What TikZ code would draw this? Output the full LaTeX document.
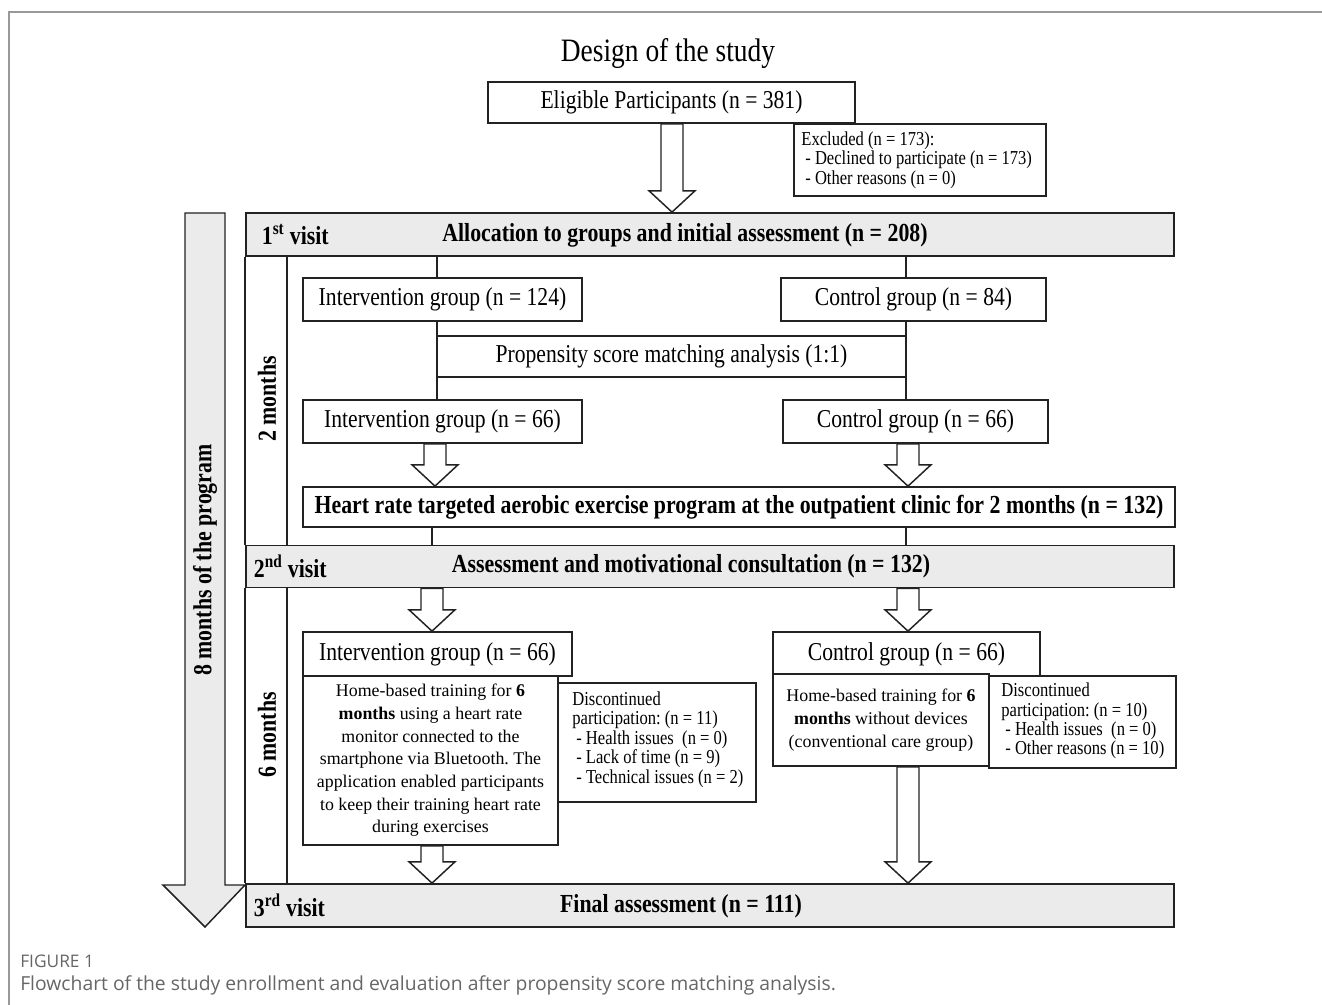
\documentclass[tikz,border=0pt]{standalone}
\usepackage{fontspec}
\setmainfont{Liberation Serif}[FakeStretch=0.84]
\newfontfamily\plainserif{Liberation Serif}
\newfontfamily\capfont{Open Sans}
\usetikzlibrary{calc}
\frenchspacing
\definecolor{barfill}{HTML}{EBEBEB}
\definecolor{capgray}{HTML}{666666}
\definecolor{framegray}{HTML}{999999}
\definecolor{ink}{HTML}{222222}
\newcommand\hollowarrow[2]{%
  \draw[harrow] let \p1=(#1), \p2=(#2) in
    (\x1-8.25pt,\y1) -- (\x1-8.25pt,\y2+16pt) -- (\x1-17.25pt,\y2+16pt) -- (\x1,\y2)
    -- (\x1+17.25pt,\y2+16pt) -- (\x1+8.25pt,\y2+16pt) -- (\x1+8.25pt,\y1) -- cycle;}
\begin{document}
\begin{tikzpicture}[x=0.75pt,y=-0.75pt,
  box/.style={draw=ink,line width=1.3pt,fill=white,inner sep=0pt,align=center},
  bar/.style={draw=ink,line width=1.3pt,fill=barfill,inner sep=0pt},
  sz/.style 2 args={minimum width=#1*0.75pt,minimum height=#2*0.75pt},
  conn/.style={draw=ink,line width=1.1pt},
  harrow/.style={draw=ink,line width=1.1pt,fill=white,line join=miter},
  mtext/.style={font=\fontsize{19.3}{22}\selectfont},
  btext/.style={font=\bfseries\fontsize{19.5}{22}\selectfont},
  stext/.style={font=\fontsize{14.8}{14.6}\selectfont,align=left,inner sep=0pt,anchor=west},
  htext/.style={font=\plainserif\fontsize{13.4}{17}\selectfont},
]
\useasboundingbox (0,0) rectangle (1322,1005);
% outer frame
\draw[framegray,line width=0.8pt] (9,1005) -- (9,12) -- (1322,12);

% column coordinates
\coordinate (cTop) at (672,0);
\coordinate (cL) at (437,0);
\coordinate (cR) at (906,0);
\coordinate (aL) at (435,0);
\coordinate (aR) at (908,0);
\coordinate (dL) at (432,0);
\coordinate (inner) at (287,0);

% title and enrollment
\node[font=\fontsize{24.5}{28}\selectfont] (title) at (668,54) {Design of the study};
\node[box,sz={367}{41},mtext] (elig) at (671.5,102.5) {Eligible Participants (n = 381)};
\node[box,sz={252}{72}] (excl) at (920,160) {};
\node[stext] (excltxt) at ($(excl.west)+(8,0)$)
  {Excluded (n = 173):\\\hspace*{0.2em}- Declined to participate (n = 173)\\\hspace*{0.2em}- Other reasons (n = 0)};

% big left arrow
\draw[fill=barfill,draw=ink,line width=1.1pt] (185,213) -- (225,213) -- (225,885) -- (245,885) -- (205,927)
  -- (163,885) -- (185,885) -- cycle;
\node[rotate=90,btext] (prog) at (205,560) {8 months of the program};

% bars
\node[bar,sz={928}{43}] (alloc) at (710,234.5) {};
\node[bar,sz={928}{42}] (visit2) at (710,566.5) {};
\node[bar,sz={928}{43}] (visit3) at (710,905.5) {};
\node[btext,anchor=west] (v1) at ($(alloc.west)+(12,0)$) {1\textsuperscript{st} visit};
\node[btext] (v1t) at (685,235) {Allocation to groups and initial assessment (n = 208)};
\node[btext,anchor=west] (v2) at ($(visit2.west)+(4,0)$) {2\textsuperscript{nd} visit};
\node[btext] (v2t) at (691,566.5) {Assessment and motivational consultation (n = 132)};
\node[btext,anchor=west] (v3) at ($(visit3.west)+(4,0)$) {3\textsuperscript{rd} visit};
\node[btext] (v3t) at (681,906) {Final assessment (n = 111)};

\hollowarrow{elig.south -| cTop}{alloc.north -| cTop}

% left frame lines and period columns
\draw[conn] (alloc.south west) -- (visit2.north west);
\draw[conn] (visit2.south west) -- (visit3.north west);
\draw[conn] (alloc.south -| inner) -- (visit2.north -| inner);
\draw[conn] (visit2.south -| inner) -- (visit3.north -| inner);
\node[rotate=90,btext] (m2) at (267,399) {2 months};
\node[rotate=90,btext] (m6) at (267,735) {6 months};

% 2 months part
\node[box,sz={279}{43},mtext] (ig1) at (442.5,299.5) {Intervention group (n = 124)};
\node[box,sz={265}{43},mtext] (cg1) at (913.5,299.5) {Control group (n = 84)};
\node[box,sz={469}{41},mtext] (psm) at (671.5,356.5) {Propensity score matching analysis (1:1)};
\node[box,sz={279}{43},mtext] (ig2) at (442.5,421.5) {Intervention group (n = 66)};
\node[box,sz={265}{43},mtext] (cg2) at (915.5,421.5) {Control group (n = 66)};
\node[box,sz={872}{40},btext] (hr) at (739,507) {Heart rate targeted aerobic exercise program at the outpatient clinic for 2 months (n = 132)};

\draw[conn] (alloc.south -| cL) -- (ig1.north -| cL);
\draw[conn] (alloc.south -| cR) -- (cg1.north -| cR);
\draw[conn] (ig1.south -| cL) -- (ig2.north -| cL);
\draw[conn] (cg1.south -| cR) -- (cg2.north -| cR);
\hollowarrow{ig2.south -| aL}{hr.north -| aL}
\hollowarrow{cg2.south -| aR}{hr.north -| aR}
\draw[conn] (hr.south -| dL) -- (visit2.north -| dL);
\draw[conn] (hr.south -| cR) -- (visit2.north -| cR);

% 6 months part
\node[box,sz={269}{44},mtext] (ig3) at (437.5,654) {Intervention group (n = 66)};
\node[box,sz={255}{169},htext] (hb1) at (430.5,760.5)
  {Home-based training for \textbf{6}\\\textbf{months} using a heart rate\\monitor connected to the\\smartphone via Bluetooth. The\\application enabled participants\\to keep their training heart rate\\during exercises};
\node[box,sz={198}{119}] (dc1) at (657,742.5) {};
\node[stext] (dc1txt) at ($(dc1.west)+(15,-3)$)
  {Discontinued\\participation: (n = 11)\\\hspace*{0.2em}- Health issues\ \ (n = 0)\\\hspace*{0.2em}- Lack of time (n = 9)\\\hspace*{0.2em}- Technical issues (n = 2)};
\node[box,sz={267}{44},mtext] (cg3) at (906.5,654) {Control group (n = 66)};
\node[box,sz={216}{92},htext] (hb2) at (881,720)
  {Home-based training for \textbf{6}\\\textbf{months} without devices\\(conventional care group)};
\node[box,sz={187}{92}] (dc2) at (1082.5,722) {};
\node[stext] (dc2txt) at ($(dc2.west)+(13,-1)$)
  {Discontinued\\participation: (n = 10)\\\hspace*{0.2em}- Health issues\ \ (n = 0)\\\hspace*{0.2em}- Other reasons (n = 10)};

\hollowarrow{visit2.south -| dL}{ig3.north -| dL}
\hollowarrow{visit2.south -| aR}{cg3.north -| aR}
\hollowarrow{hb1.south -| dL}{visit3.north -| dL}
\hollowarrow{hb2.south -| aR}{visit3.north -| aR}

% caption
\node[anchor=west,font=\capfont\fontsize{13}{15}\selectfont,text=capgray,inner sep=0pt] (figlab) at (20,961) {FIGURE 1};
\node[anchor=west,font=\capfont\fontsize{14.5}{17}\selectfont,text=capgray,inner sep=0pt] (cap) at (20,985)
  {Flowchart of the study enrollment and evaluation after propensity score matching analysis.};
\end{tikzpicture}
\end{document}
